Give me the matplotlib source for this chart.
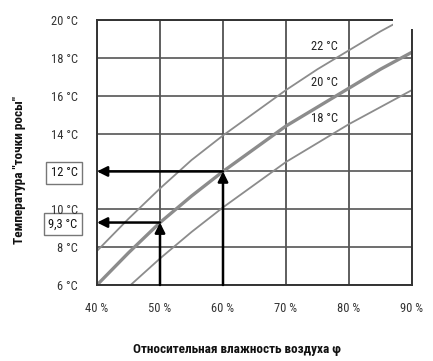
import matplotlib
matplotlib.use("Agg")
import matplotlib.pyplot as plt
from matplotlib import font_manager
from matplotlib.patches import Rectangle

# ---- data ----
humidity = [40, 45, 50, 55, 60, 65, 70, 75, 80, 85, 90]
dew_22 = [7.8, 9.5, 11.1, 12.6, 13.9, 15.1, 16.3, 17.4, 18.4, 19.4, 20.3]
dew_20 = [6.0, 7.7, 9.3, 10.7, 12.0, 13.2, 14.4, 15.4, 16.4, 17.4, 18.3]
dew_18 = [4.2, 5.9, 7.4, 8.8, 10.1, 11.3, 12.5, 13.5, 14.5, 15.4, 16.3]
curve_labels = ["22 °C", "20 °C", "18 °C"]
curve_label_y = [18.6, 16.7, 14.8]
x_ticks = [40, 50, 60, 70, 80, 90]
x_tick_labels = ["40 %", "50 %", "60 %", "70 %", "80 %", "90 %"]
y_ticks = [6, 8, 9.3, 10, 12, 14, 16, 18, 20]
y_tick_labels = ["6 °C", "8 °C", "9,3 °C", "10 °C", "12 °C", "14 °C", "16 °C", "18 °C", "20 °C"]
grid_y = [6, 8, 10, 12, 14, 16, 18, 20]
boxed = ["9,3 °C", "12 °C"]
examples = [(50, 9.3), (60, 12.0)]

avail = {f.name for f in font_manager.fontManager.ttflist}
fam = "DejaVu Sans"
for cand in ["Liberation Sans Narrow", "DejaVu Sans Condensed", "Roboto Condensed", "Open Sans Condensed"]:
    if cand in avail:
        fam = cand
        break
plt.rcParams["font.family"] = [fam, "DejaVu Sans"]

fig = plt.figure(figsize=(4.33, 3.61), dpi=100)
ax = fig.add_axes([97/433, 1-285/361, (412-97)/433, (285-20)/361])
ax.set_xlim(40, 90)
ax.set_ylim(6, 20)

for x in x_ticks:
    ax.axvline(x, color="#333333", lw=1.1, zorder=1)
for y in grid_y:
    ax.axhline(y, color="#555555", lw=1.2, zorder=1)
for s in ax.spines.values():
    s.set_color("#333333")
    s.set_linewidth(1.4)

cc = "#8c8c8c"
ax.plot(humidity, dew_22, color=cc, lw=1.3, zorder=2)
ax.plot(humidity, dew_20, color=cc, lw=2.4, zorder=2)
ax.plot(humidity, dew_18, color=cc, lw=1.3, zorder=2)

for lab, ly in zip(curve_labels, curve_label_y):
    ax.text(74.0, ly, lab, fontsize=9, ha="left", va="center", color="#222222")

for hx, hy in examples:
    ax.annotate("", xy=(hx, hy), xytext=(hx, 6),
                arrowprops=dict(arrowstyle="-|>", color="black", lw=1.8,
                                mutation_scale=15, shrinkA=0, shrinkB=0), zorder=4)
    ax.annotate("", xy=(40, hy), xytext=(hx, hy),
                arrowprops=dict(arrowstyle="-|>", color="black", lw=1.8,
                                mutation_scale=15, shrinkA=0, shrinkB=0), zorder=4)

ax.set_xticks(x_ticks)
ax.set_xticklabels(x_tick_labels, fontsize=9, color="#333333")
ax.set_yticks(y_ticks)
ax.set_yticklabels(y_tick_labels, fontsize=9, color="#333333")
ax.tick_params(axis="both", length=0)
ax.tick_params(axis="x", pad=12)
ax.tick_params(axis="y", pad=14)
for t in ax.get_yticklabels():
    if t.get_text() in boxed:
        t.set_bbox(dict(boxstyle="square,pad=0.35", fc="white", ec="#777777", lw=1.0))
        t.set_color("#111111")

fig.text(237/433, 1-350/361, "Относительная влажность воздуха φ", ha="center", va="center",
         fontsize=9.5, fontweight="bold", color="#111111")
fig.text(20/433, 1-170/361, "Температура \"точки росы\"", ha="center", va="center",
         rotation=90, fontsize=9.5, fontweight="bold", color="#111111")

fig.patches.append(Rectangle((393/433, 1-29/361), 1, 1, transform=fig.transFigure,
                             fc="white", ec="none", zorder=10))

fig.savefig("out.png", dpi=100)
